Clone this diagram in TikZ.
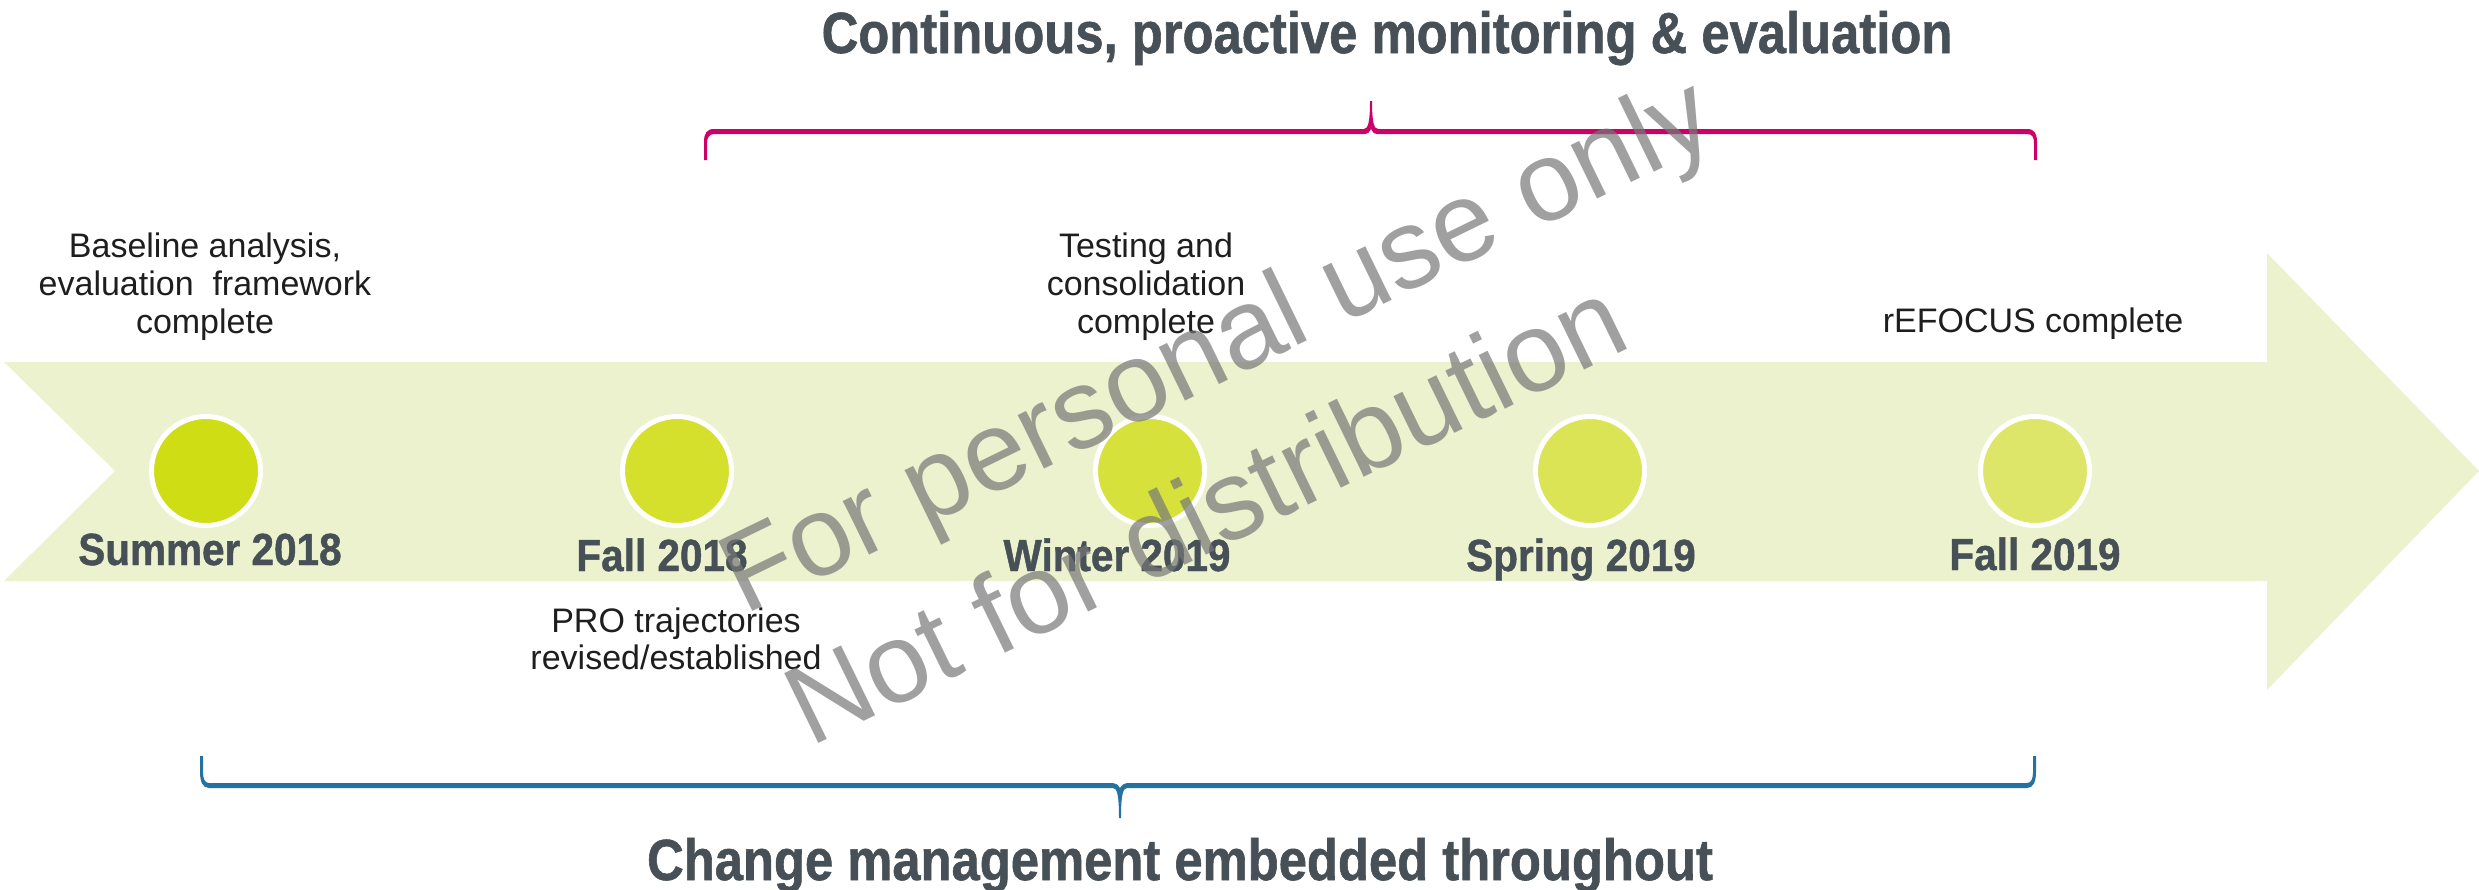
\documentclass[tikz,border=0pt]{standalone}
\usepackage{fontspec}
\setmainfont{Liberation Sans}
\newfontfamily\condbold[FakeStretch=0.9,FakeBold=1]{Liberation Sans Bold}
\newfontfamily\headbold[FakeStretch=0.875,FakeBold=1]{Liberation Sans Bold}
\definecolor{arrowfill}{HTML}{ECF2CE}
\definecolor{datetext}{HTML}{465056}
\definecolor{labeltext}{HTML}{1E1E1E}
\definecolor{bracered}{HTML}{CC0066}
\definecolor{braceblue}{HTML}{2571A0}
\definecolor{wmgray}{HTML}{777777}
\definecolor{dotA}{HTML}{CEDD14}
\definecolor{dotB}{HTML}{D4E02B}
\definecolor{dotC}{HTML}{D6E23B}
\definecolor{dotD}{HTML}{DAE455}
\definecolor{dotE}{HTML}{DDE668}
\begin{document}
\begin{tikzpicture}[x=1pt,y=-1pt,
  lbl/.style={font=\fontsize{34}{38}\selectfont, text=labeltext, inner sep=0pt, anchor=base},
  datelbl/.style={font=\condbold\fontsize{45}{50}\selectfont, text=datetext, inner sep=0pt, anchor=base},
  headlbl/.style={font=\headbold\fontsize{58}{64}\selectfont, text=datetext, inner sep=0pt, anchor=base},
  dot/.style={circle, draw=white, line width=5pt, minimum size=109pt, inner sep=0pt},
  wm/.style={font=\fontsize{113}{130}\selectfont, text=wmgray, text opacity=0.7, rotate=26, anchor=base west, inner sep=0pt}]
\useasboundingbox (0,0) rectangle (2479,889);
% arrow
\fill[arrowfill] (4,362) -- (2267,362) -- (2267,253) -- (2479,471) -- (2267,690) -- (2267,581) -- (4,581) -- (115,471) -- cycle;
% milestones
\node[dot, fill=dotA] (m1) at (206,471) {};
\node[dot, fill=dotB] (m2) at (677,471) {};
\node[dot, fill=dotC] (m3) at (1150,471) {};
\node[dot, fill=dotD] (m4) at (1590,471) {};
\node[dot, fill=dotE] (m5) at (2035,471) {};
% dates
\node[datelbl] (d1) at (210,565) {Summer 2018};
\node[datelbl] (d2) at (662,571) {Fall 2018};
\node[datelbl] (d3) at (1117,571) {Winter 2019};
\node[datelbl] (d4) at (1581,571) {Spring 2019};
\node[datelbl] (d5) at (2035,570) {Fall 2019};
% labels above
\node[lbl] (a1) at (205,257) {Baseline analysis,};
\node[lbl] (a2) at (205,295) {evaluation\ \ framework};
\node[lbl] (a3) at (205,333) {complete};
\node[lbl] (b1) at (1146,257) {Testing and};
\node[lbl] (b2) at (1146,295) {consolidation};
\node[lbl] (b3) at (1146,333) {complete};
\node[lbl] (c1) at (2033,332) {rEFOCUS complete};
% labels below
\node[lbl] (p1) at (676,632) {PRO trajectories};
\node[lbl] (p2) at (676,669) {revised/established};
% headings
\node[headlbl] (top) at (1387,53) {Continuous, proactive monitoring \& evaluation};
\node[headlbl] (bot) at (1180,880) {Change management embedded throughout};
% red brace
\fill[bracered] (704,160) -- (704,142) .. controls (704,133) and (707,129) .. (714,129)
  -- (1364,129) .. controls (1368,129) and (1370,122) .. (1370,101) -- (1372,101)
  .. controls (1372,122) and (1374,129) .. (1378,129) -- (2027,129)
  .. controls (2034,129) and (2037,133) .. (2037,142) -- (2037,160) -- (2034,160) -- (2034,143)
  .. controls (2034,137) and (2032,134) .. (2027,134) -- (1378,134)
  .. controls (1374,134) and (1372,132) .. (1371,129) .. controls (1370,132) and (1368,134) .. (1364,134)
  -- (714,134) .. controls (710,134) and (707,137) .. (707,143) -- (707,160) -- cycle;
% blue brace
\fill[braceblue] (200,756) -- (200,772) .. controls (200,782) and (203,788) .. (209,788)
  -- (1113,788) .. controls (1117,788) and (1119,795) .. (1119,818) -- (1121,818)
  .. controls (1121,795) and (1123,788) .. (1127,788) -- (2027,788)
  .. controls (2033,788) and (2036,782) .. (2036,772) -- (2036,756) -- (2033,756) -- (2033,772)
  .. controls (2033,779) and (2031,783) .. (2027,783) -- (1127,783)
  .. controls (1124,783) and (1122,785) .. (1120,788) .. controls (1118,785) and (1116,783) .. (1113,783)
  -- (209,783) .. controls (205,783) and (203,779) .. (203,772) -- (203,756) -- cycle;
% watermark
\node[wm] (w1) at (744,616) {For personal use only};
\node[wm] (w2) at (810,748) {Not for distribution};
\end{tikzpicture}
\end{document}
